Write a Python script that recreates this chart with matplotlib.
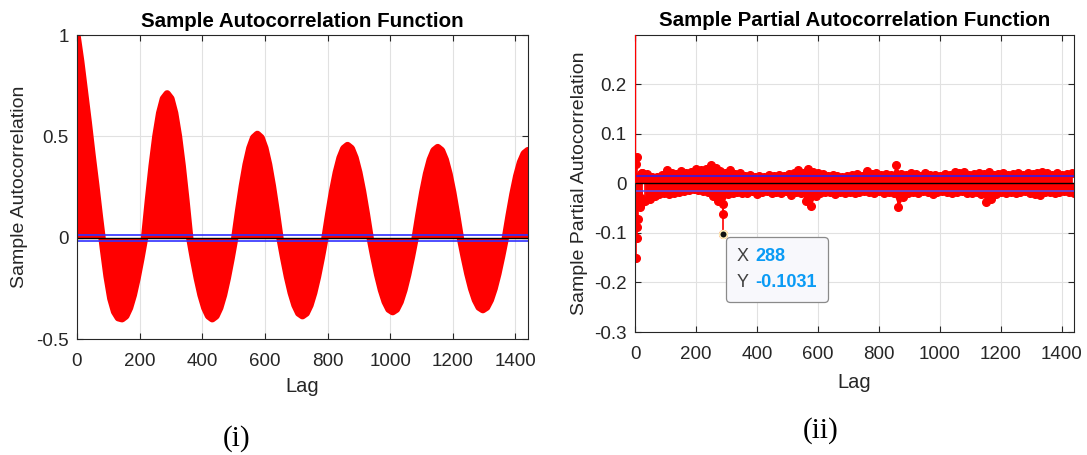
import numpy as np
import matplotlib
matplotlib.use("Agg")
import matplotlib.pyplot as plt
from matplotlib.offsetbox import TextArea, HPacker, VPacker, AnnotationBbox

plt.rcParams["font.family"] = ["Liberation Sans", "DejaVu Sans"]
plt.rcParams["axes.unicode_minus"] = False

### Data
# sample ACF, one value every 12 lags (0 ... 1440)
acf_lags = np.arange(0, 1441, 12)
acf_vals = [
    1.00, 0.87, 0.72, 0.57, 0.41, 0.26, 0.10, -0.05, -0.19, -0.30, -0.365, -0.395,
    -0.40, -0.386, -0.346, -0.283, -0.20, -0.104, 0.0, 0.184, 0.355, 0.502, 0.615, 0.686,
    0.71, 0.686, 0.615, 0.502, 0.355, 0.184, 0.0, -0.104, -0.20, -0.283, -0.346, -0.386,
    -0.40, -0.386, -0.346, -0.283, -0.20, -0.104, 0.0, 0.132, 0.255, 0.361, 0.442, 0.493,
    0.51, 0.493, 0.442, 0.361, 0.255, 0.132, 0.0, -0.10, -0.193, -0.272, -0.333, -0.372,
    -0.385, -0.372, -0.333, -0.272, -0.193, -0.10, 0.0, 0.118, 0.228, 0.322, 0.394, 0.44,
    0.455, 0.44, 0.394, 0.322, 0.228, 0.118, 0.0, -0.095, -0.183, -0.258, -0.316, -0.353,
    -0.365, -0.353, -0.316, -0.258, -0.183, -0.095, 0.0, 0.115, 0.223, 0.315, 0.385, 0.43,
    0.445, 0.43, 0.385, 0.315, 0.223, 0.115, 0.0, -0.092, -0.178, -0.251, -0.307, -0.343,
    -0.355, -0.343, -0.307, -0.251, -0.178, -0.092, 0.0, 0.111, 0.215, 0.304, 0.372, 0.415,
    0.43,
]

# sample PACF: first lags one by one
pacf_early_lags = np.arange(0, 24)
pacf_early_vals = [1.0, 0.95, -0.005, 0.039, -0.15, 0.054, -0.111, -0.036, -0.088, -0.071,
                   -0.02, 0.012, -0.045, 0.008, -0.03, 0.015, -0.047, 0.01, -0.04, 0.016,
                   -0.03, 0.018, -0.038, 0.02]
# upper side of the noise band (every 16 lags from 24)
pacf_hi_lags = np.arange(24, 1440, 16)
pacf_hi_vals = [
    0.021, 0.018, 0.013, 0.012, 0.016, 0.026, 0.02, 0.018, 0.025, 0.02, 0.023, 0.028,
    0.027, 0.03, 0.037, 0.031, 0.024, 0.02, 0.026, 0.019, 0.021, 0.014, 0.016, 0.013,
    0.015, 0.012, 0.016, 0.014, 0.017, 0.015, 0.019, 0.021, 0.026, 0.02, 0.029, 0.022,
    0.02, 0.019, 0.015, 0.017, 0.015, 0.012, 0.014, 0.016, 0.018, 0.015, 0.025, 0.019,
    0.021, 0.017, 0.018, 0.016, 0.037, 0.018, 0.016, 0.02, 0.018, 0.015, 0.02, 0.016,
    0.017, 0.015, 0.018, 0.016, 0.023, 0.02, 0.022, 0.017, 0.018, 0.021, 0.019, 0.023,
    0.017, 0.019, 0.02, 0.016, 0.018, 0.02, 0.017, 0.02, 0.018, 0.021, 0.023, 0.021,
    0.017, 0.02, 0.016, 0.018, 0.021,
]
# lower side of the noise band (every 16 lags from 32)
pacf_lo_lags = np.arange(32, 1441, 16)
pacf_lo_vals = [
    -0.035, -0.032, -0.026, -0.022, -0.02, -0.022, -0.019, -0.017, -0.015, -0.014, -0.012, -0.014,
    -0.015, -0.018, -0.025, -0.035, -0.042, -0.022, -0.02, -0.018, -0.02, -0.019, -0.016, -0.022,
    -0.018, -0.016, -0.02, -0.017, -0.019, -0.016, -0.023, -0.018, -0.02, -0.035, -0.045, -0.025,
    -0.02, -0.018, -0.017, -0.022, -0.018, -0.02, -0.017, -0.019, -0.018, -0.016, -0.017, -0.019,
    -0.016, -0.02, -0.018, -0.02, -0.047, -0.027, -0.02, -0.017, -0.019, -0.016, -0.018, -0.021,
    -0.017, -0.016, -0.018, -0.02, -0.017, -0.016, -0.019, -0.02, -0.018, -0.022, -0.037, -0.032,
    -0.022, -0.018, -0.019, -0.017, -0.02, -0.018, -0.016, -0.019, -0.021, -0.023, -0.018, -0.017,
    -0.02, -0.018, -0.016, -0.018, -0.019,
]
# lone points under the band around lag 288
pacf_extra_lags = [287, 288]
pacf_extra_vals = [-0.062, -0.1031]

conf_bound = 0.015
tip_lag, tip_val = 288, -0.1031

### Styling helpers
red = "#ff0000"
txt = "#262626"


def matlab_axes(ax):
    ax.grid(True, color="#e1e1e1", lw=0.8, zorder=0)
    ax.set_axisbelow(True)
    ax.tick_params(direction="in", length=4, width=0.8, colors=txt, labelsize=13.5,
                   top=True, right=True)
    ax.tick_params(axis="x", pad=10)
    ax.tick_params(axis="y", pad=6)
    for s in ax.spines.values():
        s.set_color(txt)
        s.set_linewidth(0.8)
        s.set_zorder(10)


fig = plt.figure(figsize=(10.87, 4.55), dpi=100)
ax1 = fig.add_axes([0.0708, 0.2549, 0.4149, 0.668])
ax2 = fig.add_axes([0.5842, 0.2703, 0.4039, 0.6534])

### (i) ACF
acf = np.array(acf_vals)
ax1.fill_between(acf_lags, 0, acf, color=red, lw=0, zorder=2)
ax1.plot(acf_lags, acf, color=red, lw=5.3, solid_capstyle="round",
         solid_joinstyle="round", zorder=3)
ax1.axhline(conf_bound, color="#3030ff", lw=1.2, zorder=4)
ax1.axhline(-conf_bound, color="#3030ff", lw=1.2, zorder=4)
ax1.axhline(0, color="black", lw=1, zorder=5)
ax1.set_xlim(0, 1440)
ax1.set_ylim(-0.5, 1)
ax1.set_xticks(np.arange(0, 1401, 200))
ax1.set_yticks([-0.5, 0, 0.5, 1])
ax1.set_yticklabels(["-0.5", "0", "0.5", "1"])
matlab_axes(ax1)
ax1.set_title("Sample Autocorrelation Function", fontsize=14.8, fontweight="bold", pad=6)
ax1.set_xlabel("Lag", fontsize=14.5, color=txt, labelpad=5)
ax1.set_ylabel("Sample Autocorrelation", fontsize=14, color=txt)
ax1.yaxis.set_label_coords(-0.108, 0.5)

### (ii) PACF
for lg, vals in [(pacf_early_lags, pacf_early_vals), (pacf_hi_lags, pacf_hi_vals),
                 (pacf_lo_lags, pacf_lo_vals), (pacf_extra_lags, pacf_extra_vals)]:
    ax2.vlines(lg, 0, vals, color=red, lw=1.2, zorder=2)
    ax2.plot(lg, vals, "o", color=red, ms=5.5, zorder=3)
# lag 0 / lag 1 stems run off the top, drawn over the spine like the original
ax2.vlines(pacf_early_lags[:2], 0, pacf_early_vals[:2], color=red, lw=1.6, zorder=11)
# the dense stems read as a solid band
ax2.fill_between(pacf_early_lags[10:], 0, pacf_early_vals[10:], color=red, lw=0, zorder=2)
ax2.fill_between(pacf_hi_lags, 0, pacf_hi_vals, color=red, lw=0, zorder=2)
ax2.fill_between(pacf_lo_lags, pacf_lo_vals, 0, color=red, lw=0, zorder=2)
ax2.axhline(conf_bound, color="#2020ff", lw=1.1, zorder=4)
ax2.axhline(-conf_bound, color="#5050ff", lw=1.1, zorder=4)
ax2.axhline(0, color="black", lw=1, zorder=5)
ax2.set_xlim(0, 1440)
ax2.set_ylim(-0.3, 0.3)
ax2.set_xticks(np.arange(0, 1401, 200))
ax2.set_yticks([-0.3, -0.2, -0.1, 0, 0.1, 0.2])
ax2.set_yticklabels(["-0.3", "-0.2", "-0.1", "0", "0.1", "0.2"])
matlab_axes(ax2)
ax2.set_title("Sample Partial Autocorrelation Function", fontsize=14.8, fontweight="bold", pad=6)
ax2.set_xlabel("Lag", fontsize=14.5, color=txt, labelpad=7)
ax2.set_ylabel("Sample Partial Autocorrelation", fontsize=14, color=txt)
ax2.yaxis.set_label_coords(-0.107, 0.5)

# data tip
ax2.plot([tip_lag], [tip_val], "o", color="#111111", ms=5.5, mec="#fff0b8", mew=1.2, zorder=8)
blue = "#0a9bf5"
row_x = HPacker(children=[TextArea("X", textprops=dict(color="#404040", fontsize=13)),
                          TextArea(str(tip_lag), textprops=dict(color=blue, fontsize=13,
                                                                fontweight="bold"))],
                sep=5, align="baseline", pad=0)
row_y = HPacker(children=[TextArea("Y", textprops=dict(color="#404040", fontsize=13)),
                          TextArea(f"{tip_val:.4f}", textprops=dict(color=blue, fontsize=13,
                                                                    fontweight="bold"))],
                sep=5, align="baseline", pad=0)
tip_box = VPacker(children=[row_x, row_y], sep=7, align="left", pad=5)
ab = AnnotationBbox(tip_box, (tip_lag, tip_val), xybox=(5, -4.5), boxcoords="offset points",
                    box_alignment=(0, 1), frameon=True, pad=0.3,
                    bboxprops=dict(boxstyle="round,pad=0.3,rounding_size=0.3",
                                   fc="#f8f8fc", ec="#8a8a8a", lw=0.9))
ab.set_zorder(9)
ax2.add_artist(ab)

# sub-figure captions
fig.text(0.218, 0.037, "(i)", family="Liberation Serif", fontsize=21, ha="center", va="center")
fig.text(0.755, 0.053, "(ii)", family="Liberation Serif", fontsize=21, ha="center", va="center")

fig.savefig("out.png", dpi=100, facecolor="white")
